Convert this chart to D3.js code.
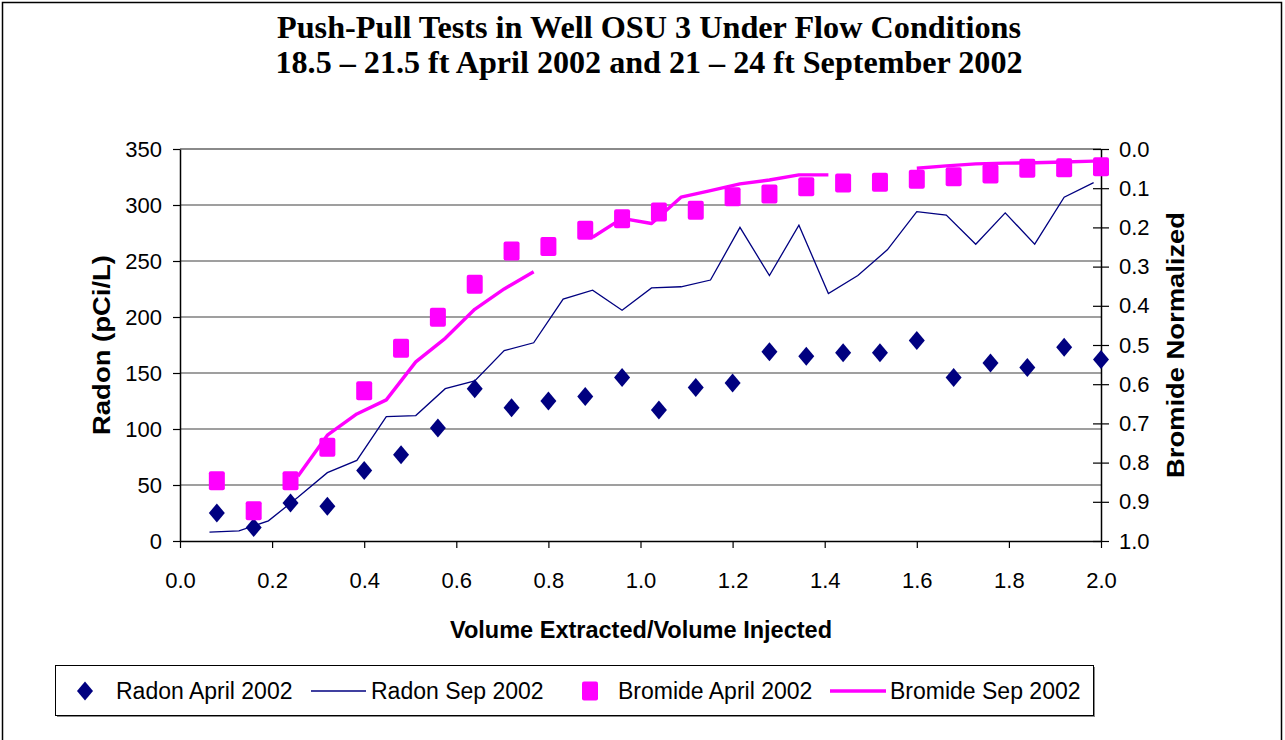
<!DOCTYPE html>
<html>
<head>
<meta charset="utf-8">
<script src="https://cdn.jsdelivr.net/npm/d3@7"></script>
<style>
body { margin: 0; background: #fff; }
svg { display: block; }
</style>
</head>
<body>
<script>
// April 2002 test (markers)
var volApril = [0.08, 0.16, 0.24, 0.32, 0.40, 0.48, 0.56, 0.64, 0.72, 0.80, 0.88, 0.96, 1.04,
                1.12, 1.20, 1.28, 1.36, 1.44, 1.52, 1.60, 1.68, 1.76, 1.84, 1.92, 2.00];
var radonApril = [25, 12, 34, 31, 63, 77, 101, 136, 119, 125, 129, 146, 117,
                  137, 141, 169, 165, 168, 168, 179, 146, 159, 155, 173, 162];
var bromideApril = [0.846, 0.923, 0.846, 0.761, 0.617, 0.508, 0.429, 0.345, 0.260, 0.249, 0.207, 0.178, 0.161,
                    0.156, 0.122, 0.115, 0.096, 0.087, 0.085, 0.077, 0.071, 0.064, 0.049, 0.048, 0.045];

// September 2002 test (lines), null = no sample
var volSep = [0.064, 0.128, 0.192, 0.256, 0.320, 0.384, 0.448, 0.512, 0.576, 0.640, 0.704,
              0.768, 0.832, 0.896, 0.960, 1.024, 1.088, 1.152, 1.216, 1.280, 1.344, 1.408,
              1.472, 1.536, 1.600, 1.664, 1.728, 1.792, 1.856, 1.920, 1.984];
var radonSep = [8, 9, 18, 39, 61, 72, 111, 112, 136, 143, 170,
                177, 216, 224, 206, 226, 227, 233, 280, 237, 282, 221,
                237, 260, 294, 291, 265, 293, 265, 307, 320];
var bromideSep = [null, null, null, 0.835, 0.730, 0.676, 0.640, 0.543, 0.483, 0.409, 0.357,
                  0.313, null, 0.225, 0.177, 0.190, 0.123, 0.106, 0.089, 0.079, 0.066, 0.066,
                  null, null, 0.049, 0.043, 0.038, 0.036, 0.035, 0.033, 0.031];

var radonTicks = [0, 50, 100, 150, 200, 250, 300, 350];
var bromideTicks = [0, 0.1, 0.2, 0.3, 0.4, 0.5, 0.6, 0.7, 0.8, 0.9, 1.0];
var volTicks = [0, 0.2, 0.4, 0.6, 0.8, 1.0, 1.2, 1.4, 1.6, 1.8, 2.0];

var seriesNames = ["Radon April 2002", "Radon Sep 2002", "Bromide April 2002", "Bromide Sep 2002"];

var width = 1285,
    height = 740;
var navy = "#000080",
    magenta = "#ff00ff";
var sans = "'Liberation Sans', Arial, sans-serif";

var svg = d3.select("body").append("svg")
    .attr("width", width)
    .attr("height", height);

svg.append("rect")
    .attr("x", 2.5).attr("y", 2.5)
    .attr("width", 1279).attr("height", 770)
    .attr("fill", "#fff")
    .attr("stroke", "#000")
    .attr("stroke-width", 1.5);

var x = d3.scaleLinear().domain([0, 2]).range([180, 1101]);
var yLeft = d3.scaleLinear().domain([0, 350]).range([541, 149]);
var yRight = d3.scaleLinear().domain([0, 1]).range([149, 541]);

// title
var titleLines = ["Push-Pull Tests in Well OSU 3 Under Flow Conditions",
                  "18.5 \u2013 21.5 ft April 2002 and 21 \u2013 24 ft September 2002"];
svg.selectAll(".title")
    .data(titleLines)
    .enter().append("text")
    .attr("class", "title")
    .attr("x", 649)
    .attr("y", function (d, i) { return 38 + i * 35; })
    .attr("text-anchor", "middle")
    .attr("textLength", function (d, i) { return i ? 747 : 744; })
    .attr("lengthAdjust", "spacingAndGlyphs")
    .style("font-family", "'Liberation Serif', 'Times New Roman', serif")
    .style("font-weight", "bold")
    .style("font-size", "32px")
    .text(function (d) { return d; });

// gridlines
svg.append("g").selectAll("line")
    .data(radonTicks.filter(function (d) { return d > 0; }))
    .enter().append("line")
    .attr("x1", x(0)).attr("x2", x(2))
    .attr("y1", function (d) { return yLeft(d); })
    .attr("y2", function (d) { return yLeft(d); })
    .attr("stroke", function (d) { return d === 350 ? "#8a8a8a" : "#404040"; })
    .attr("stroke-width", function (d) { return d === 350 ? 2 : 1.2; });

// axes
function styleAxis(g) {
    g.select(".domain").attr("stroke", "#000").attr("stroke-width", 1.5);
    g.selectAll(".tick line").attr("stroke", "#000").attr("stroke-width", 1.2);
    g.selectAll("text")
        .style("font-family", sans)
        .style("font-size", "22px")
        .attr("fill", "#000");
}

svg.append("g")
    .attr("transform", "translate(" + x(0) + ",0)")
    .call(d3.axisLeft(yLeft).tickValues(radonTicks).tickSize(7).tickSizeOuter(0).tickPadding(11)
        .tickFormat(d3.format("d")))
    .call(styleAxis);

svg.append("g")
    .attr("transform", "translate(0," + yLeft(0) + ")")
    .call(d3.axisBottom(x).tickValues(volTicks).tickSize(7).tickSizeOuter(0).tickPadding(24)
        .tickFormat(d3.format(".1f")))
    .call(styleAxis);

var rightAxis = svg.append("g")
    .attr("transform", "translate(" + x(2) + ",0)")
    .call(d3.axisRight(yRight).tickValues(bromideTicks).tickSize(8).tickSizeOuter(0).tickPadding(10)
        .tickFormat(d3.format(".1f")))
    .call(styleAxis);
rightAxis.selectAll(".tick line").attr("x1", -8);

// axis titles
svg.append("text")
    .attr("transform", "translate(102,345) rotate(-90)")
    .attr("text-anchor", "middle")
    .attr("dy", "0.35em")
    .attr("textLength", 180)
    .attr("lengthAdjust", "spacingAndGlyphs")
    .style("font-family", sans).style("font-weight", "bold").style("font-size", "23px")
    .text("Radon (pCi/L)");

svg.append("text")
    .attr("transform", "translate(1176,345) rotate(-90)")
    .attr("text-anchor", "middle")
    .attr("dy", "0.35em")
    .attr("textLength", 266)
    .attr("lengthAdjust", "spacingAndGlyphs")
    .style("font-family", sans).style("font-weight", "bold").style("font-size", "23px")
    .text("Bromide Normalized");

svg.append("text")
    .attr("x", 641).attr("y", 638)
    .attr("text-anchor", "middle")
    .attr("textLength", 382)
    .attr("lengthAdjust", "spacingAndGlyphs")
    .style("font-family", sans).style("font-weight", "bold").style("font-size", "23px")
    .text("Volume Extracted/Volume Injected");

// lines
var radonSepLine = d3.line()
    .x(function (d, i) { return x(volSep[i]); })
    .y(function (d) { return yLeft(d); });

var bromideSepLine = d3.line()
    .defined(function (d) { return d !== null; })
    .x(function (d, i) { return x(volSep[i]); })
    .y(function (d) { return yRight(d); });

svg.append("path")
    .datum(radonSep)
    .attr("d", radonSepLine)
    .attr("fill", "none")
    .attr("stroke", navy)
    .attr("stroke-width", 1.3);

svg.append("path")
    .datum(bromideSep)
    .attr("d", bromideSepLine)
    .attr("fill", "none")
    .attr("stroke", magenta)
    .attr("stroke-width", 3.4)
    .attr("stroke-linejoin", "round");

// markers
var diamond = "M0,-9.5L8,0L0,9.5L-8,0Z";

svg.append("g").selectAll("path")
    .data(radonApril)
    .enter().append("path")
    .attr("d", diamond)
    .attr("transform", function (d, i) { return "translate(" + x(volApril[i]) + "," + yLeft(d) + ")"; })
    .attr("fill", navy);

svg.append("g").selectAll("rect")
    .data(bromideApril)
    .enter().append("rect")
    .attr("x", function (d, i) { return x(volApril[i]) - 8; })
    .attr("y", function (d) { return yRight(d) - 9.5; })
    .attr("width", 16).attr("height", 19)
    .attr("rx", 2)
    .attr("fill", magenta);

// legend
svg.append("rect")
    .attr("x", 57).attr("y", 667)
    .attr("width", 1038).attr("height", 50)
    .attr("fill", "#888");
svg.append("rect")
    .attr("x", 55.5).attr("y", 665.5)
    .attr("width", 1038).attr("height", 50)
    .attr("fill", "#fff")
    .attr("stroke", "#000")
    .attr("stroke-width", 1);

var legendY = 691;
var legend = svg.append("g");
legend.append("path").attr("d", diamond).attr("transform", "translate(85," + legendY + ")").attr("fill", navy);
legend.append("line").attr("x1", 311).attr("x2", 366).attr("y1", legendY).attr("y2", legendY)
    .attr("stroke", navy).attr("stroke-width", 1.3);
legend.append("rect").attr("x", 582).attr("y", legendY - 9.5).attr("width", 16).attr("height", 19)
    .attr("rx", 2).attr("fill", magenta);
legend.append("line").attr("x1", 830).attr("x2", 886).attr("y1", legendY).attr("y2", legendY)
    .attr("stroke", magenta).attr("stroke-width", 3.4);

var legendTextX = [116, 371, 618, 890];
legend.selectAll("text")
    .data(seriesNames)
    .enter().append("text")
    .attr("x", function (d, i) { return legendTextX[i]; })
    .attr("y", legendY + 8)
    .style("font-family", sans)
    .style("font-size", "23px")
    .text(function (d) { return d; });
</script>
</body>
</html>
